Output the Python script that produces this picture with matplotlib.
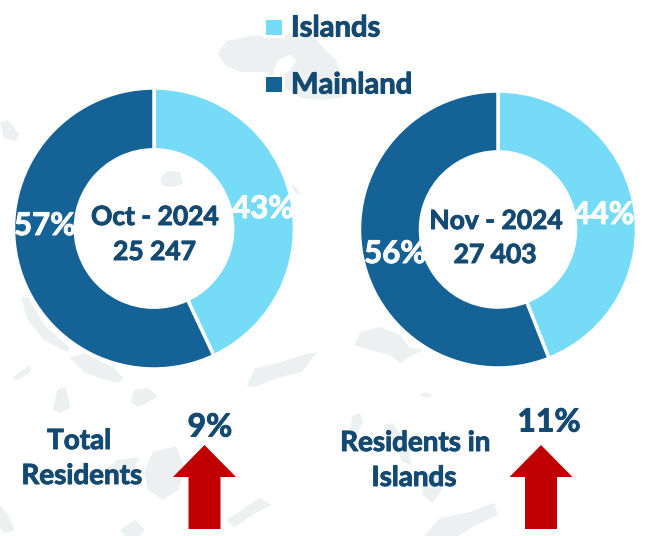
import matplotlib
matplotlib.use("Agg")
import matplotlib.pyplot as plt
import matplotlib.patheffects as pe
from matplotlib.patches import Polygon, Rectangle

# data
categories = ["Islands", "Mainland"]
oct_values = [43, 57]
nov_values = [44, 56]
oct_title = "Oct - 2024"
nov_title = "Nov - 2024"
oct_total = "25 247"
nov_total = "27 403"
change_labels = [["Total", "Residents"], ["Residents in", "Islands"]]
change_values = [9, 11]

LIGHT = "#75dbf7"
DARK = "#156396"
TEXT = "#144a72"
RED = "#c00000"
LAND = "#ecf0f1"

W, H = 646, 536
plt.rcParams["font.family"] = ["Lato", "DejaVu Sans"]
plt.rcParams["font.weight"] = "bold"
fig = plt.figure(figsize=(W / 100, H / 100), dpi=100)


def pixel_axes(zorder):
    a = fig.add_axes([0, 0, 1, 1], zorder=zorder)
    a.set_xlim(0, W)
    a.set_ylim(H, 0)
    a.axis("off")
    return a


# faint map behind everything
bg = pixel_axes(0)
islands = [
    [(218, 54), (226, 41), (250, 36), (278, 36), (300, 33), (315, 38), (325, 50), (336, 60), (342, 76), (343, 97),
     (322, 100), (302, 98), (288, 90), (274, 80), (268, 72), (240, 72), (226, 66)],
    [(247, 386), (255, 368), (282, 362), (302, 355), (317, 352), (302, 372), (277, 378), (255, 387)],
    [(354, 345), (361, 332), (380, 327), (400, 335), (410, 348), (424, 350), (407, 358), (400, 363), (390, 355), (370, 350)],
    [(70, 358), (84, 353), (114, 368), (123, 378), (118, 383), (99, 378), (84, 372)],
    [(21, 298), (28, 297), (44, 325), (70, 348), (67, 352), (44, 340), (28, 320)],
    [(53, 410), (57, 390), (65, 387), (69, 400), (70, 408), (61, 413)],
    [(131, 402), (134, 390), (148, 388), (158, 396), (148, 402), (138, 407)],
    [(144, 472), (153, 452), (176, 446), (185, 470), (178, 490), (163, 500), (148, 490)],
    [(103, 472), (117, 460), (140, 457), (133, 470), (114, 477)],
    [(424, 536), (440, 518), (470, 512), (494, 503), (498, 515), (474, 526), (459, 536)],
    [(226, 520), (242, 510), (259, 498), (272, 505), (252, 515), (235, 527)],
    [(419, 395), (425, 393), (433, 395), (427, 398)],
    [(350, 436), (352, 416), (360, 413), (363, 422), (356, 437)],
    [(383, 425), (393, 423), (407, 445), (412, 465), (403, 462), (393, 442)],
    [(422, 495), (425, 474), (437, 470), (443, 488), (433, 503)],
    [(0, 122), (8, 120), (19, 134), (16, 141), (4, 138)],
    [(160, 178), (168, 171), (180, 172), (183, 184), (173, 187), (163, 186)],
    [(291, 186), (294, 185), (301, 194), (296, 193)],
    [(12, 378), (30, 365), (31, 372), (18, 380)],
    [(0, 505), (8, 515), (15, 530), (5, 533), (0, 528)],
    [(120, 530), (135, 520), (145, 530), (140, 536), (125, 536)],
]
for shape in islands:
    bg.add_patch(Polygon(shape, closed=True, fc=LAND, ec="none"))
bg.add_patch(Polygon([(273, 72), (278, 60), (290, 55), (297, 60), (290, 70), (278, 78)], fc="white", ec="none"))


def donut(values, cx, cy, r):
    a = fig.add_axes([(cx - r) / W, 1 - (cy + r) / H, 2 * r / W, 2 * r / H], zorder=1)
    a.pie(values, colors=[LIGHT, DARK], startangle=90, counterclock=False, radius=1,
          wedgeprops=dict(width=0.44, edgecolor="white", linewidth=2.5))
    a.set_xlim(-1, 1)
    a.set_ylim(-1, 1)
    return a


donut(oct_values, 154, 228.5, 140.5)
donut(nov_values, 498, 229.5, 138.5)

ov = pixel_axes(2)


def label(x, y, s, size, color=TEXT, ha="center"):
    t = ov.text(x, y, s, fontsize=size, color=color, ha=ha, va="center", fontweight="bold")
    t.set_path_effects([pe.withStroke(linewidth=0.7, foreground=color)])


# legend
for y, c, name in zip([27.5, 84.5], [LIGHT, DARK], categories):
    ov.add_patch(Rectangle((263, y - 10), 22, 20, fc="white", ec="none"))
    ov.add_patch(Rectangle((266, y - 7.5), 16, 15, fc=c, ec="none"))
    label(291, y + 1, name, 21, ha="left")

# percentages
label(263, 209, f"{oct_values[0]}%", 22.5, "white")
label(45, 226, f"{oct_values[1]}%", 22.5, "white")
label(603.5, 215, f"{nov_values[0]}%", 22.5, "white")
label(395, 254, f"{nov_values[1]}%", 22.5, "white")

# centre text
label(155, 217, oct_title, 19)
label(154.5, 252, oct_total, 19)
label(496, 221, nov_title, 19)
label(495, 255, nov_total, 19)

# bottom row
label(79, 441, change_labels[0][0], 20)
label(82, 476, change_labels[0][1], 20)
label(415.5, 443, change_labels[1][0], 20)
label(414, 478, change_labels[1][1], 20)
label(210, 427, f"{change_values[0]}%", 23)
label(549, 422, f"{change_values[1]}%", 23)

for cx in [204.5, 541]:
    ov.add_patch(Polygon([(cx, 445), (cx + 31.5, 477), (cx + 16, 477), (cx + 16, 529),
                          (cx - 16, 529), (cx - 16, 477), (cx - 31.5, 477)], fc=RED, ec="none"))

fig.savefig("out.png", dpi=100, facecolor="white")
